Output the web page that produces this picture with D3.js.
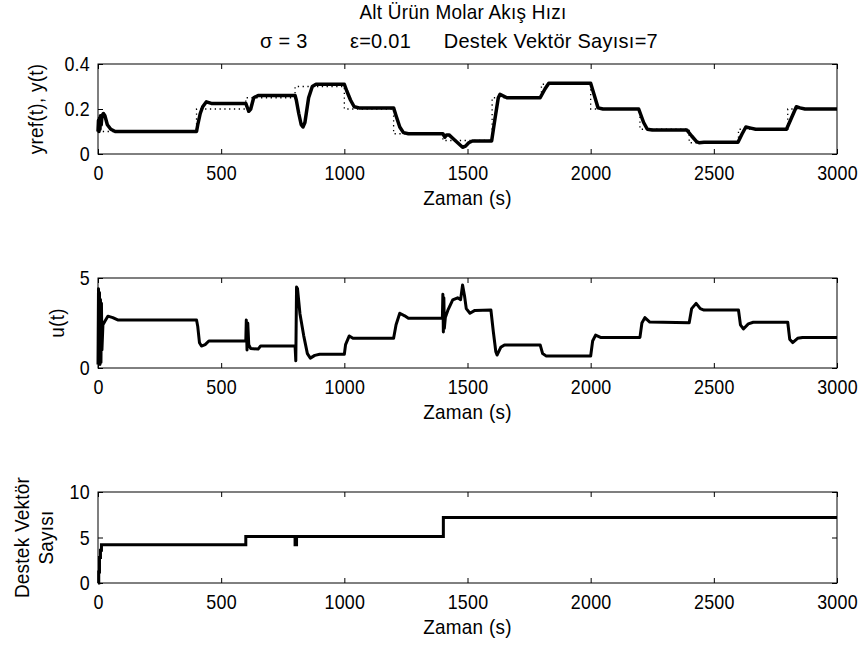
<!DOCTYPE html>
<html>
<head>
<meta charset="utf-8">
<script src="https://cdn.jsdelivr.net/npm/d3@7"></script>
<style>
  html, body { margin: 0; padding: 0; background: #fff; }
  svg text { font-family: "Liberation Sans", Arial, sans-serif; font-size: 21px; fill: #000; letter-spacing: 0.3px; }
</style>
</head>
<body>
<svg id="chart" width="866" height="646"></svg>
<script>
// ---------- data ----------
const titleLine1 = "Alt Ürün Molar Akış Hızı";
const titleLine2 = ["σ = 3", "ε=0.01", "Destek Vektör Sayısı=7"];
const xTicks = [0, 500, 1000, 1500, 2000, 2500, 3000];
const xLabel = "Zaman (s)";

// reference (step) : [time, value]
const yrefSteps = [
  [0, 0.1], [400, 0.2], [600, 0.25], [800, 0.3], [1000, 0.2], [1200, 0.09],
  [1400, 0.06], [1600, 0.25], [1800, 0.31], [2000, 0.2], [2200, 0.11],
  [2400, 0.05], [2600, 0.11], [2800, 0.2], [3000, 0.2]
];
// plant output y(t)
const yOut = [
  [0, 0.1], [2, 0.15], [4, 0.1], [6, 0.16], [8, 0.11], [10, 0.17], [13, 0.13], [16, 0.17],
  [22, 0.18], [28, 0.17], [38, 0.13], [52, 0.11], [70, 0.1], [100, 0.1], [400, 0.1],
  [405, 0.13], [415, 0.18], [425, 0.21], [440, 0.232], [460, 0.225], [600, 0.225],
  [605, 0.21], [612, 0.19], [620, 0.2], [632, 0.25], [650, 0.26], [800, 0.26],
  [805, 0.24], [815, 0.18], [825, 0.13], [832, 0.12], [840, 0.14], [855, 0.25],
  [870, 0.3], [885, 0.31], [1000, 0.31], [1010, 0.28], [1025, 0.24], [1040, 0.21],
  [1060, 0.205], [1200, 0.205], [1210, 0.17], [1225, 0.12], [1240, 0.095], [1260, 0.09],
  [1400, 0.09], [1408, 0.075], [1415, 0.085], [1425, 0.085], [1440, 0.07], [1460, 0.05],
  [1480, 0.03], [1492, 0.035], [1505, 0.05], [1520, 0.058], [1598, 0.058],
  [1612, 0.16], [1625, 0.25], [1632, 0.265], [1660, 0.25], [1795, 0.25], [1815, 0.29],
  [1830, 0.314], [2000, 0.314], [2015, 0.26], [2030, 0.205], [2050, 0.2], [2195, 0.2],
  [2215, 0.14], [2230, 0.11], [2250, 0.107], [2390, 0.107], [2410, 0.08], [2430, 0.055],
  [2440, 0.05], [2460, 0.052], [2598, 0.052], [2615, 0.09], [2630, 0.12], [2650, 0.115],
  [2670, 0.11], [2795, 0.11], [2815, 0.16], [2835, 0.21], [2850, 0.205], [2870, 0.2], [3000, 0.2]
];
// control input u(t)
const uOut = [
  [0, 0.2], [2, 4.4], [4, 0.3], [6, 4.2], [8, 0.2], [10, 3.8], [12, 0.3], [14, 3.6],
  [16, 1.0], [20, 2.4], [28, 2.6], [40, 2.88], [60, 2.8], [80, 2.67], [400, 2.67],
  [405, 2.3], [412, 1.4], [420, 1.22], [435, 1.3], [450, 1.5], [600, 1.5],
  [602, 2.67], [605, 1.0], [608, 2.5], [612, 1.3], [620, 1.08], [650, 1.05], [660, 1.22],
  [800, 1.22], [803, 0.4], [806, 4.5], [810, 4.4], [820, 3.0], [835, 1.8], [850, 0.8],
  [862, 0.55], [880, 0.7], [900, 0.76], [1000, 0.76], [1005, 1.3], [1020, 1.78],
  [1035, 1.65], [1200, 1.65], [1210, 2.4], [1225, 3.04], [1245, 2.9], [1260, 2.76],
  [1398, 2.76], [1400, 4.1], [1402, 2.0], [1404, 3.9], [1406, 2.2], [1410, 2.8],
  [1420, 3.2], [1440, 3.78], [1460, 3.9], [1472, 3.8], [1480, 4.61], [1488, 4.0],
  [1495, 3.3], [1510, 3.04], [1530, 3.2], [1595, 3.22], [1605, 2.0], [1615, 0.9],
  [1620, 0.72], [1635, 1.15], [1650, 1.28], [1795, 1.28], [1805, 0.8], [1820, 0.66],
  [1840, 0.67], [2000, 0.67], [2008, 1.5], [2020, 1.83], [2040, 1.7], [2200, 1.7],
  [2208, 2.5], [2220, 2.8], [2240, 2.55], [2400, 2.52], [2410, 3.3], [2428, 3.59],
  [2445, 3.3], [2460, 3.22], [2600, 3.22], [2608, 2.4], [2620, 2.17], [2640, 2.45],
  [2660, 2.54], [2800, 2.54], [2808, 1.6], [2820, 1.41], [2840, 1.65], [2860, 1.7], [3000, 1.7]
];
// number of support vectors
const svCount = [
  [0, 0], [3, 0], [3, 1.2], [6, 1.2], [6, 2.8], [10, 2.8], [10, 3.6], [14, 3.6], [14, 4.2],
  [600, 4.2], [600, 5.1], [800, 5.1], [800, 4.2], [806, 4.2], [806, 5.1],
  [1402, 5.1], [1402, 7.2], [3000, 7.2]
];

const panels = [
  { top: 64, bottom: 154, domain: [0, 0.4], yTicks: [0, 0.2, 0.4], yFmt: d => d === 0 ? "0" : d3.format(".1f")(d), yLabel: ["yref(t), y(t)"], labelX: [43] },
  { top: 278, bottom: 368, domain: [0, 5], yTicks: [0, 5], yFmt: d3.format("d"), yLabel: ["u(t)"], labelX: [64] },
  { top: 492, bottom: 583, domain: [0, 10], yTicks: [0, 5, 10], yFmt: d3.format("d"), yLabel: ["Destek Vektör", "Sayısı"], labelX: [29, 53] }
];

// ---------- drawing ----------
const svg = d3.select("#chart");
const left = 98, right = 837;
const x = d3.scaleLinear().domain([0, 3000]).range([left, right]);

function condense(sel, f) {
  sel.each(function () {
    const w = this.getComputedTextLength();
    if (w > 0) d3.select(this).attr("textLength", (w * f).toFixed(1)).attr("lengthAdjust", "spacingAndGlyphs");
  });
}

const t1 = svg.append("text").attr("x", 463).attr("y", 19).attr("text-anchor", "middle").text(titleLine1);
condense(t1, 0.9);
// second title line: three separate groups, as in the reference
const l2Pos = [[260, "start"], [350, "start"], [658, "end"]];
titleLine2.forEach((s, k) => {
  const t = svg.append("text").attr("x", l2Pos[k][0]).attr("y", 48).attr("text-anchor", l2Pos[k][1]).text(s);
  condense(t, 0.95);
});

panels.forEach((p, i) => {
  const y = d3.scaleLinear().domain(p.domain).range([p.bottom, p.top]);
  p.y = y;
  const g = svg.append("g");

  const gb = g.append("g").attr("transform", `translate(0,${p.bottom})`)
    .call(d3.axisBottom(x).tickValues(xTicks).tickFormat(d3.format("d")).tickSizeInner(-5).tickSizeOuter(0).tickPadding(11));
  const gt = g.append("g").attr("transform", `translate(0,${p.top})`)
    .call(d3.axisTop(x).tickValues(xTicks).tickFormat("").tickSizeInner(-5).tickSizeOuter(0));
  const gl = g.append("g").attr("transform", `translate(${left},0)`)
    .call(d3.axisLeft(y).tickValues(p.yTicks).tickFormat(p.yFmt).tickSizeInner(-5).tickSizeOuter(0).tickPadding(8));
  const gr = g.append("g").attr("transform", `translate(${right},0)`)
    .call(d3.axisRight(y).tickValues(p.yTicks).tickFormat("").tickSizeInner(-5).tickSizeOuter(0));
  [gb, gt, gl, gr].forEach(a => {
    a.select(".domain").remove();
    a.selectAll("line").attr("stroke", "#000");
    a.selectAll("text").attr("font-family", null).attr("font-size", null).style("fill", "#000");
    condense(a.selectAll("text"), 0.85);
  });

  g.append("rect").attr("x", left).attr("y", p.top).attr("width", right - left).attr("height", p.bottom - p.top)
    .attr("fill", "none").attr("stroke", "#000").attr("stroke-width", 1);

  condense(g.append("text").attr("x", (left + right) / 2).attr("y", p.bottom + 51).attr("text-anchor", "middle").text(xLabel), 0.9);

  p.yLabel.forEach((t, k) => {
    condense(g.append("text").attr("transform", `translate(${p.labelX[k]},${(p.top + p.bottom) / 2}) rotate(-90)`)
      .attr("text-anchor", "middle").text(t), 0.9);
  });
});

const defs = svg.append("defs");
panels.forEach((p, i) => {
  defs.append("clipPath").attr("id", "c" + i).append("rect")
    .attr("x", left - 2).attr("y", p.top - 2).attr("width", right - left + 4).attr("height", p.bottom - p.top + 4);
});

const line = (ys) => d3.line().x(d => x(d[0])).y(d => ys(d[1]));

svg.append("path").datum(yrefSteps).attr("clip-path", "url(#c0)")
  .attr("d", d3.line().x(d => x(d[0])).y(d => panels[0].y(d[1])).curve(d3.curveStepAfter))
  .attr("fill", "none").attr("stroke", "#000").attr("stroke-width", 1.3).attr("stroke-dasharray", "1.3,3.5");

svg.append("path").datum(yOut).attr("clip-path", "url(#c0)")
  .attr("d", line(panels[0].y)).attr("fill", "none").attr("stroke", "#000").attr("stroke-width", 3.5)
  .attr("stroke-linejoin", "round");

svg.append("path").datum(uOut).attr("clip-path", "url(#c1)")
  .attr("d", line(panels[1].y)).attr("fill", "none").attr("stroke", "#000").attr("stroke-width", 3)
  .attr("stroke-linejoin", "round");

svg.append("path").datum(svCount).attr("clip-path", "url(#c2)")
  .attr("d", line(panels[2].y)).attr("fill", "none").attr("stroke", "#000").attr("stroke-width", 3);
</script>
</body>
</html>
